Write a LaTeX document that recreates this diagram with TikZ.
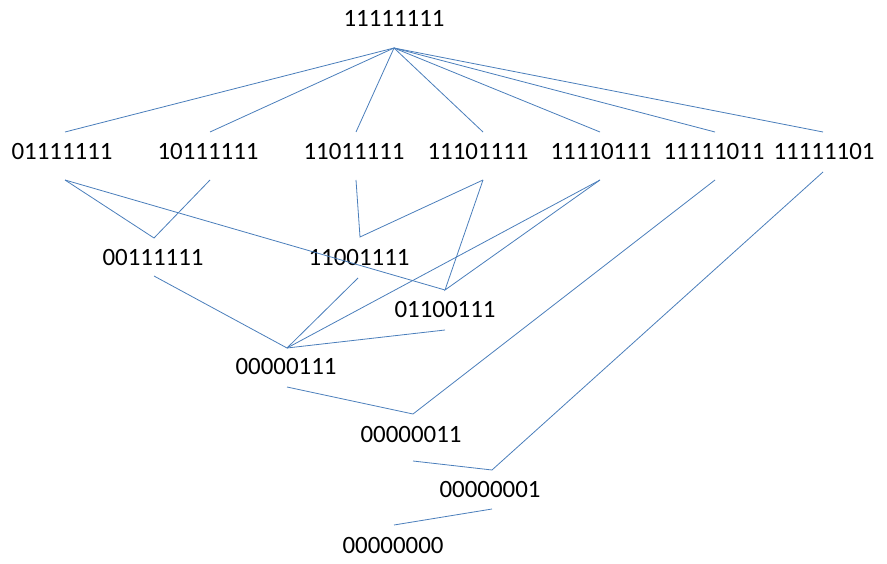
\documentclass[tikz,border=0pt]{standalone}
\usepackage{fontspec}
\setmainfont{Carlito}
\definecolor{edgeblue}{HTML}{4A7EBB}
\begin{document}
\begin{tikzpicture}[x=1bp,y=-1bp,
  lbl/.style={font=\fontsize{25}{29}\selectfont, inner sep=0pt, anchor=center},
  edge/.style={draw=edgeblue, line width=0.8bp}]
\useasboundingbox (0,0) rectangle (887,564);
% labels
\node[lbl] (top) at (394,18) {11111111};
\node[lbl] (a1) at (62,152) {01111111};
\node[lbl] (a2) at (208,152) {10111111};
\node[lbl] (a3) at (354,152) {11011111};
\node[lbl] (a4) at (478,152) {11101111};
\node[lbl] (a5) at (601,152) {11110111};
\node[lbl] (a6) at (714,152) {11111011};
\node[lbl] (a7) at (824,152) {11111101};
\node[lbl] (b1) at (153,258) {00111111};
\node[lbl] (b2) at (359,258) {11001111};
\node[lbl] (c1) at (445,310) {01100111};
\node[lbl] (d) at (286,367) {00000111};
\node[lbl] (e) at (411,435) {00000011};
\node[lbl] (f) at (490,490) {00000001};
\node[lbl] (g) at (393,545) {00000000};
% connector end points
\coordinate (tb) at (394,48);
\coordinate (a1t) at (65,132);  \coordinate (a1b) at (65,180);
\coordinate (a2t) at (210,132); \coordinate (a2b) at (210,180);
\coordinate (a3t) at (356,132); \coordinate (a3b) at (356,180);
\coordinate (a4t) at (483,132); \coordinate (a4b) at (483,180);
\coordinate (a5t) at (600,132); \coordinate (a5b) at (600,180);
\coordinate (a6t) at (715,132); \coordinate (a6b) at (715,180);
\coordinate (a7t) at (823,132); \coordinate (a7b) at (823,172);
\coordinate (b1t) at (154,238); \coordinate (b1b) at (154,276);
\coordinate (b2t) at (360,237); \coordinate (b2b) at (358,278);
\coordinate (c1t) at (445,290); \coordinate (c1b) at (445,330);
\coordinate (dt) at (287,348);  \coordinate (db) at (287,387);
\coordinate (et) at (413,414);  \coordinate (eb) at (413,461);
\coordinate (ft) at (492,470);  \coordinate (fb) at (492,509);
\coordinate (gt) at (394,525);
% edges
\foreach \n in {a1t,a2t,a3t,a4t,a5t,a6t,a7t} \draw[edge] (tb) -- (\n);
\draw[edge] (a1b) -- (b1t) -- (a2b);
\draw[edge] (a3b) -- (b2t) -- (a4b);
\draw[edge] (a1b) -- (c1t);
\draw[edge] (a4b) -- (c1t) -- (a5b);
\draw[edge] (b1b) -- (dt);
\draw[edge] (b2b) -- (dt);
\draw[edge] (a5b) -- (dt);
\draw[edge] (c1b) -- (dt);
\draw[edge] (db) -- (et) -- (a6b);
\draw[edge] (eb) -- (ft) -- (a7b);
\draw[edge] (fb) -- (gt);
\end{tikzpicture}
\end{document}
